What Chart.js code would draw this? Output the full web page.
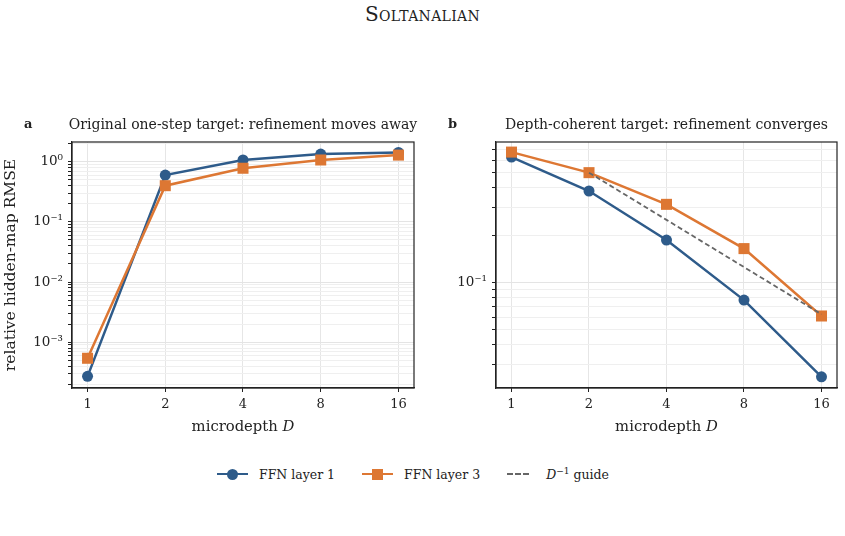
<!DOCTYPE html>
<html>
<head>
<meta charset="utf-8">
<script src="https://cdn.jsdelivr.net/npm/chart.js@4.4.1/dist/chart.umd.min.js"></script>
<style>
  body { margin: 0; width: 845px; height: 536px; background: #fff; position: relative; overflow: hidden;
         font-family: "DejaVu Serif", serif; color: #222; }
  #hdr { position: absolute; top: 2px; left: 0; width: 845px; text-align: center; font-size: 20px; font-variant: small-caps; letter-spacing: 0.3px; }
  .panel { position: absolute; top: 100px; height: 340px; }
  #legend { position: absolute; left: 217px; top: 466px; display: flex; align-items: center; font-size: 12.5px; white-space: nowrap; }
  .item { display: flex; align-items: center; margin-right: 27px; }
  .swatch { position: relative; width: 31px; height: 14px; margin-right: 11px; }
  .swatch .ln { position: absolute; left: 0; right: 0; top: 6px; height: 0; border-top: 2.5px solid; }
  .swatch .mk { position: absolute; left: 10px; top: 1.5px; width: 11px; height: 11px; }
</style>
</head>
<body>
<div id="hdr">Soltanalian</div>
<div class="panel" style="left:0;width:425px"><canvas id="chartA"></canvas></div>
<div class="panel" style="left:425px;width:420px"><canvas id="chartB"></canvas></div>
<div id="legend"></div>

<script>
// microdepth values on the x axis
const depths = [1, 2, 4, 8, 16];

// panel a: original one-step target
const layer1A = [2.7e-4, 0.60, 1.07, 1.34, 1.43];
const layer3A = [5.4e-4, 0.40, 0.78, 1.07, 1.29];

// panel b: depth-coherent target
const layer1B = [0.628, 0.382, 0.186, 0.077, 0.025];
const layer3B = [0.676, 0.50, 0.314, 0.164, 0.061];
const guideB  = [null, 0.50, 0.25, 0.125, 0.0625];

const seriesNames = ["FFN layer 1", "FFN layer 3", "D\u207B\u00B9 guide"];

const BLUE = "#2e5b8a";
const ORANGE = "#dd7733";
const GUIDE = "#666666";
const FONT = '"DejaVu Serif", serif';

function toPoints(vals) {
  return depths.map((d, i) => ({ x: d, y: vals[i] })).filter(p => p.y !== null);
}

function sup(n) {
  const map = { "-": "\u207B", "0": "\u2070", "1": "\u00B9", "2": "\u00B2", "3": "\u00B3",
                "4": "\u2074", "5": "\u2075", "6": "\u2076", "7": "\u2077", "8": "\u2078", "9": "\u2079" };
  return String(n).split("").map(c => map[c]).join("");
}

// all log ticks (1..9 x 10^n) between min and max
function logTicks(min, max) {
  const t = [];
  for (let e = Math.floor(Math.log10(min)); e <= Math.ceil(Math.log10(max)); e++) {
    for (let k = 1; k < 10; k++) {
      const v = k * Math.pow(10, e);
      if (v >= min && v <= max) t.push({ value: v, major: k === 1 });
    }
  }
  return t;
}

// frame + panel title + letter + x title with italic D
const panelText = {
  id: "panelText",
  afterDraw(chart, args, opts) {
    const { ctx, chartArea: a } = chart;
    ctx.save();
    ctx.strokeStyle = "#222";
    ctx.lineWidth = 1.2;
    ctx.strokeRect(a.left, a.top, a.right - a.left, a.bottom - a.top);

    ctx.fillStyle = "#222";
    ctx.textBaseline = "middle";
    ctx.textAlign = "left";
    ctx.font = "bold 13px " + FONT;
    ctx.fillText(opts.letter, opts.letterX, a.top - 17);

    ctx.textAlign = "center";
    ctx.font = "14px " + FONT;
    ctx.fillText(opts.title, (a.left + a.right) / 2, a.top - 17);

    // x axis title
    const cx = (a.left + a.right) / 2, cy = a.bottom + 39;
    ctx.textAlign = "left";
    ctx.font = "14.8px " + FONT;
    const w1 = ctx.measureText("microdepth ").width;
    ctx.font = "italic 14.8px " + FONT;
    const w2 = ctx.measureText("D").width;
    const x0 = cx - (w1 + w2) / 2;
    ctx.font = "14.8px " + FONT;
    ctx.fillText("microdepth ", x0, cy);
    ctx.font = "italic 14.8px " + FONT;
    ctx.fillText("D", x0 + w1, cy);
    ctx.restore();
  }
};

function makeChart(id, opt) {
  const yTicks = logTicks(opt.yMin, opt.yMax);
  return new Chart(document.getElementById(id), {
    type: "line",
    data: {
      datasets: opt.datasets
    },
    options: {
      responsive: true,
      maintainAspectRatio: false,
      animation: false,
      layout: { padding: { top: 42, right: opt.padRight, bottom: 0, left: 0 } },
      plugins: {
        legend: { display: false },
        tooltip: { enabled: false },
        panelText: { letter: opt.letter, letterX: opt.letterX, title: opt.title }
      },
      scales: {
        x: {
          type: "logarithmic",
          min: Math.pow(2, -0.2),
          max: Math.pow(2, 4.2),
          afterBuildTicks: s => { s.ticks = depths.map(v => ({ value: v, major: true })); },
          afterFit: s => { s.height = 52; },
          ticks: {
            autoSkip: false, maxRotation: 0, padding: 5,
            color: "#222", font: { family: FONT, size: 13 },
            callback: v => String(v)
          },
          grid: { color: "#e6e6e6", lineWidth: 1, tickColor: "#222", tickLength: 4 },
          border: { display: true, color: "#222", width: 1.2 }
        },
        y: {
          type: "logarithmic",
          min: opt.yMin,
          max: opt.yMax,
          afterBuildTicks: s => { s.ticks = yTicks.map(t => ({ value: t.value, major: t.major })); },
          afterFit: s => { s.width = opt.yWidth; },
          ticks: {
            autoSkip: false, padding: 5,
            color: "#222", font: { family: FONT, size: 13.5 },
            callback: (v, i) => yTicks[i] && yTicks[i].major ? "10" + sup(Math.round(Math.log10(v))) : ""
          },
          grid: {
            color: c => (c.tick && c.tick.major) ? "#e4e4e4" : "#efefef",
            lineWidth: 1, tickColor: "#222", tickLength: 4
          },
          border: { display: true, color: "#222", width: 1.2 },
          title: {
            display: !!opt.yTitle, text: opt.yTitle || "", color: "#222",
            font: { family: FONT, size: 15.5 }, padding: { top: 2, bottom: 0 }
          }
        }
      }
    },
    plugins: [panelText]
  });
}

function lineSet(label, vals, color, style, order) {
  return {
    label: label, data: toPoints(vals), borderColor: color, backgroundColor: color,
    borderWidth: 2.5, pointStyle: style, pointRadius: style === "rect" ? 7.8 : 5.5,
    pointBorderWidth: 0, order: order, tension: 0
  };
}

makeChart("chartA", {
  letter: "a", letterX: 24, title: "Original one-step target: refinement moves away",
  yTitle: "relative hidden-map RMSE", yMin: 1.73e-4, yMax: 2.13, yWidth: 72, padRight: 11,
  datasets: [
    lineSet(seriesNames[0], layer1A, BLUE, "circle", 2),
    lineSet(seriesNames[1], layer3A, ORANGE, "rect", 1)
  ]
});

makeChart("chartB", {
  letter: "b", letterX: 23, title: "Depth-coherent target: refinement converges",
  yTitle: null, yMin: 0.0212, yMax: 0.784, yWidth: 71, padRight: 8,
  datasets: [
    lineSet(seriesNames[0], layer1B, BLUE, "circle", 2),
    lineSet(seriesNames[1], layer3B, ORANGE, "rect", 1),
    { label: seriesNames[2], data: toPoints(guideB), borderColor: GUIDE, borderWidth: 1.8,
      borderDash: [5, 3], pointRadius: 0, order: 0, tension: 0 }
  ]
});

// shared legend
const legendItems = [
  { name: seriesNames[0], color: BLUE, marker: "circle" },
  { name: seriesNames[1], color: ORANGE, marker: "square" },
  { name: seriesNames[2], color: GUIDE, marker: "dash" }
];
const legend = document.getElementById("legend");
legendItems.forEach(it => {
  const item = document.createElement("div");
  item.className = "item";
  const sw = document.createElement("div");
  sw.className = "swatch";
  if (it.marker === "dash") {
    sw.style.width = "22px";
    sw.style.marginRight = "17px";
    sw.innerHTML = '<div class="ln" style="border-top:2px dashed ' + it.color + '"></div>';
  } else {
    sw.innerHTML = '<div class="ln" style="border-color:' + it.color + '"></div>' +
      '<div class="mk" style="background:' + it.color + ';border-radius:' + (it.marker === "circle" ? "50%" : "0") + '"></div>';
  }
  const txt = document.createElement("span");
  if (it.marker === "dash") {
    txt.innerHTML = '<i>D</i><sup style="font-size:9px">\u22121</sup> guide';
  } else {
    txt.textContent = it.name;
  }
  item.appendChild(sw);
  item.appendChild(txt);
  legend.appendChild(item);
});
</script>
</body>
</html>
